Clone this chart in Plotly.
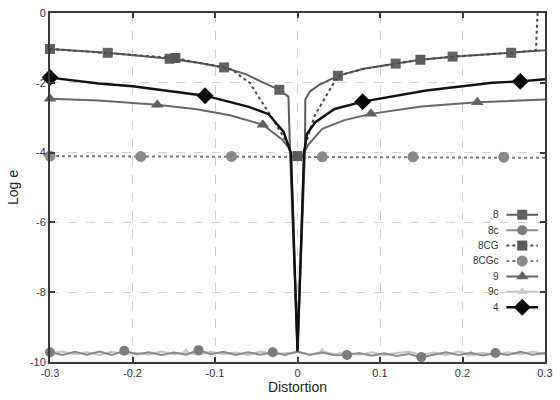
import plotly.graph_objects as go

# ---- data -------------------------------------------------------------
# series "8"
x8 = [-0.30, -0.23, -0.155, -0.122, -0.089, -0.062, -0.042, -0.022, -0.011, -0.009, 0.0,
      0.009, 0.0095, 0.015, 0.027, 0.049, 0.08, 0.119, 0.149, 0.188, 0.259, 0.30]
y8 = [-1.03, -1.14, -1.31, -1.42, -1.56, -1.76, -1.99, -2.20, -2.40, -4.0, -9.7,
      -4.0, -2.47, -2.25, -2.05, -1.80, -1.60, -1.45, -1.34, -1.25, -1.14, -1.07]
m8 = [0, 1, 2, 4, 7, 15, 17, 19, 20]

# series "8CG"
x8cg = [-0.30, -0.23, -0.148, -0.122, -0.089, -0.08, -0.058, -0.035, -0.013, -0.007, 0.0,
        0.006, 0.0095, 0.021, 0.049, 0.08, 0.119, 0.149, 0.188, 0.259, 0.289, 0.291]
y8cg = [-1.03, -1.14, -1.29, -1.42, -1.56, -1.62, -2.0, -2.85, -3.70, -4.1, -4.1,
        -4.1, -3.78, -2.93, -1.80, -1.60, -1.45, -1.34, -1.25, -1.14, -1.07, 0.0]
m8cg = [2, 10, 17]

# series "9"
x9 = [-0.30, -0.241, -0.17, -0.122, -0.082, -0.042, -0.018, -0.011, -0.008, 0.0,
      0.008, 0.013, 0.03, 0.057, 0.089, 0.15, 0.218, 0.30]
y9 = [-2.46, -2.51, -2.63, -2.76, -2.93, -3.20, -3.64, -3.85, -4.0, -9.7,
      -4.0, -3.78, -3.32, -3.07, -2.89, -2.68, -2.56, -2.48]
m9 = [0, 2, 5, 14, 16]

# series "4"
x4 = [-0.30, -0.241, -0.20, -0.112, -0.06, -0.035, -0.017, -0.011, -0.008, 0.0,
      0.008, 0.0116, 0.0215, 0.045, 0.079, 0.156, 0.236, 0.27, 0.30]
y4 = [-1.85, -2.02, -2.10, -2.37, -2.68, -2.90, -3.40, -3.78, -4.0, -9.7,
      -4.0, -3.46, -3.13, -2.75, -2.54, -2.22, -2.00, -1.96, -1.90]
m4 = [0, 3, 14, 17]

# series "8CGc"
x8cgc = [-0.30, -0.19, -0.08, 0.03, 0.14, 0.25, 0.30]
y8cgc = [-4.10, -4.11, -4.11, -4.12, -4.12, -4.13, -4.15]
m8cgc = [0, 1, 2, 3, 4, 5]

# series "8c" and "9c" share the same distortion grid
xc = [-0.300, -0.285, -0.270, -0.255, -0.240, -0.225, -0.210, -0.195, -0.180, -0.165,
      -0.150, -0.135, -0.120, -0.105, -0.090, -0.075, -0.060, -0.045, -0.030, -0.015,
      0.000, 0.015, 0.030, 0.045, 0.060, 0.075, 0.090, 0.105, 0.120, 0.135,
      0.150, 0.165, 0.180, 0.195, 0.210, 0.225, 0.240, 0.255, 0.270, 0.285, 0.300]
y8c = [-9.72, -9.80, -9.71, -9.79, -9.70, -9.80, -9.68, -9.78, -9.72, -9.80,
       -9.73, -9.79, -9.66, -9.78, -9.71, -9.80, -9.72, -9.79, -9.72, -9.80,
       -9.70, -9.79, -9.73, -9.81, -9.80, -9.74, -9.82, -9.75, -9.83, -9.77,
       -9.86, -9.78, -9.72, -9.80, -9.74, -9.81, -9.74, -9.80, -9.71, -9.79, -9.74]
m8c = [0, 6, 12, 18, 24, 30, 36]
y9c = [-9.76, -9.70, -9.78, -9.72, -9.80, -9.71, -9.77, -9.74, -9.79, -9.70,
       -9.78, -9.72, -9.80, -9.71, -9.77, -9.73, -9.80, -9.70, -9.78, -9.74,
       -9.72, -9.80, -9.71, -9.77, -9.73, -9.79, -9.72, -9.80, -9.74, -9.71,
       -9.79, -9.73, -9.80, -9.70, -9.77, -9.74, -9.80, -9.72, -9.78, -9.71, -9.77]
m9c = [11, 22, 34]

x_ticks = [-0.3, -0.2, -0.1, 0.0, 0.1, 0.2, 0.3]
x_labels = ["-0.3", "-0.2", "-0.1", "0", "0.1", "0.2", "0.3"]
y_ticks = [0, -2, -4, -6, -8, -10]
y_labels = ["0", "-2", "-4", "-6", "-8", "-10"]

# ---- styles -----------------------------------------------------------
series = [
    # name, x, y, marker idx, line colour, width, dash, symbol, marker colour, size
    ("9c", xc, y9c, m9c, "#c4c4c4", 2, "solid", "triangle-up", "#cdcdcd", 9),
    ("8c", xc, y8c, m8c, "#8a8a8a", 2, "solid", "circle", "#7c7c7c", 10),
    ("8CGc", x8cgc, y8cgc, m8cgc, "#7a7a7a", 2, "dot", "circle", "#8a8a8a", 11),
    ("9", x9, y9, m9, "#676767", 2, "solid", "triangle-up", "#606060", 11),
    ("8", x8, y8, m8, "#5a5a5a", 2, "solid", "square", "#626262", 10),
    ("8CG", x8cg, y8cg, m8cg, "#4a4a4a", 2, "dot", "square", "#5a5a5a", 10),
    ("4", x4, y4, m4, "#111111", 2.4, "solid", "diamond", "#080808", 13),
]
legend_order = ["8", "8c", "8CG", "8CGc", "9", "9c", "4"]

fig = go.Figure()

for name, xs, ys, marks, lc, lw, dash, sym, mc, ms in series:
    fig.add_trace(go.Scatter(x=xs, y=ys, mode="lines", showlegend=False,
                             line=dict(color=lc, width=lw, dash=dash), name=name))
    fig.add_trace(go.Scatter(x=[xs[i] for i in marks], y=[ys[i] for i in marks],
                             mode="markers", showlegend=False, name=name, cliponaxis=False,
                             marker=dict(symbol=sym, color=mc, size=ms, line=dict(width=0))))

# ---- hand-made legend key (labels left of the samples) ----------------
style = {s[0]: s for s in series}
row_top, row_step = 0.422, 0.0442
for k, name in enumerate(legend_order):
    _, _, _, _, lc, lw, dash, sym, mc, ms = style[name]
    ry = row_top - k * row_step
    fig.add_trace(go.Scatter(x=[0.922, 0.986], y=[ry, ry], xaxis="x2", yaxis="y2",
                             mode="lines", showlegend=False, hoverinfo="skip",
                             line=dict(color=lc, width=lw, dash=dash)))
    fig.add_trace(go.Scatter(x=[0.954], y=[ry], xaxis="x2", yaxis="y2",
                             mode="markers", showlegend=False, hoverinfo="skip",
                             marker=dict(symbol=sym, color=mc, size=ms, line=dict(width=0))))
    fig.add_annotation(x=0.911, y=ry, xref="paper", yref="paper", text=name,
                       showarrow=False, xanchor="right", yanchor="middle",
                       font=dict(family="Liberation Sans, Arial, sans-serif",
                                 size=10, color="#333333"))

axis_common = dict(
    showline=True, linewidth=2, linecolor="#3a3a3a", mirror="ticks",
    ticks="inside", ticklen=5, tickwidth=1.5, tickcolor="#3a3a3a",
    showgrid=True, gridcolor="#d2d2d2", gridwidth=1, griddash="dash",
    zeroline=False,
    tickfont=dict(family="Liberation Sans, Arial, sans-serif", size=11, color="#333333"),
)

fig.update_layout(
    width=560, height=400,
    margin=dict(l=50, r=7, t=10, b=38),
    paper_bgcolor="white", plot_bgcolor="white",
    xaxis=dict(range=[-0.3, 0.3], tickvals=x_ticks, ticktext=x_labels,
               title=dict(text="Distortion", standoff=4,
                          font=dict(family="Liberation Sans, Arial, sans-serif",
                                    size=14, color="#222222")),
               **axis_common),
    yaxis=dict(range=[-10, 0], tickvals=y_ticks, ticktext=y_labels,
               title=dict(text="Log e", standoff=8,
                          font=dict(family="Liberation Sans, Arial, sans-serif",
                                    size=14, color="#222222")),
               **axis_common),
    xaxis2=dict(overlaying="x", range=[0, 1], visible=False, fixedrange=True),
    yaxis2=dict(overlaying="y", range=[0, 1], visible=False, fixedrange=True),
    showlegend=False,
)

fig.write_html("out.html")
